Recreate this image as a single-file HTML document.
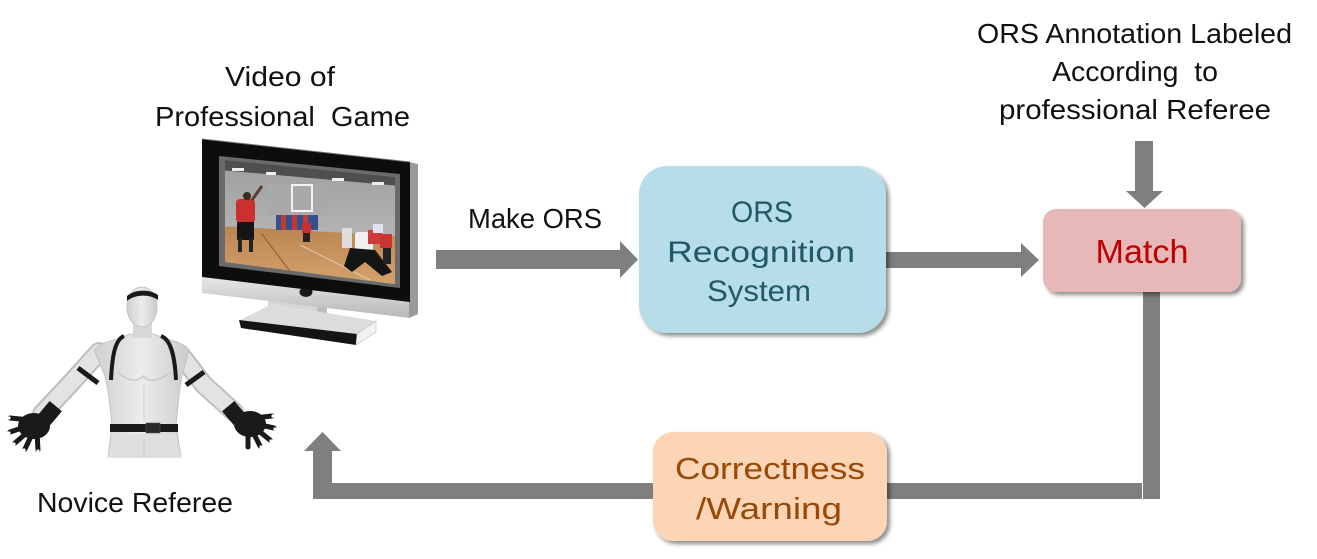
<!DOCTYPE html>
<html>
<head>
<meta charset="utf-8">
<style>
html,body{margin:0;padding:0;background:#fff;}
svg{display:block;}
text{font-family:"Liberation Sans",sans-serif;}
</style>
</head>
<body>
<svg width="1317" height="559" viewBox="0 0 1317 559" xmlns="http://www.w3.org/2000/svg">
<defs>
  <filter id="sh" x="-10%" y="-10%" width="130%" height="130%">
    <feGaussianBlur in="SourceAlpha" stdDeviation="2.2"/>
    <feOffset dx="3" dy="3" result="o"/>
    <feComponentTransfer><feFuncA type="linear" slope="0.45"/></feComponentTransfer>
    <feMerge><feMergeNode/><feMergeNode in="SourceGraphic"/></feMerge>
  </filter>
  <linearGradient id="silver" x1="0" y1="0" x2="0" y2="1">
    <stop offset="0" stop-color="#e8e8e8"/>
    <stop offset="1" stop-color="#b8b8b8"/>
  </linearGradient>
  <linearGradient id="floor" x1="0" y1="0" x2="0" y2="1">
    <stop offset="0" stop-color="#b98552"/>
    <stop offset="1" stop-color="#d7a56e"/>
  </linearGradient>
  <linearGradient id="wall" x1="0" y1="0" x2="0" y2="1">
    <stop offset="0" stop-color="#9c9c9c"/>
    <stop offset="1" stop-color="#c2c2c2"/>
  </linearGradient>
  <linearGradient id="skin" x1="0" y1="0" x2="1" y2="0">
    <stop offset="0" stop-color="#cfcfcf"/>
    <stop offset="0.5" stop-color="#ececec"/>
    <stop offset="1" stop-color="#cbcbcb"/>
  </linearGradient>
  <clipPath id="scr"><polygon points="225,160 395,177 395,284 225,262"/></clipPath>
</defs>

<rect width="1317" height="559" fill="#fff"/>

<!-- ===== TV ===== -->
<!-- stand back plate -->
<polygon points="268,298 320,304 320,322 268,316" fill="#d6d6d6"/>
<rect x="317" y="300" width="10" height="22" fill="#bdbdbd"/>
<!-- base -->
<polygon points="240,320 272,304 376,321 357,334" fill="#dcdcdc"/>
<polygon points="239,320 357,334 356,345 241,328" fill="#141414"/>
<polygon points="357,334 376,321 376,332 356,345" fill="#f2f2f2" stroke="#bbb" stroke-width="0.6"/>
<!-- silver bottom frame -->
<polygon points="202,276 410,301 410,318 202,293" fill="url(#silver)"/>
<ellipse cx="306" cy="292" rx="6.5" ry="5" fill="#1a1a1a"/>
<!-- right side strip -->
<polygon points="409,162 418,164 418,314 409,318" fill="#9a9a9a"/>
<!-- bezel -->
<polygon points="202,139 410,162 410,302 202,277" fill="#0d0d0d"/>
<line x1="202" y1="139" x2="410" y2="162" stroke="#777" stroke-width="1"/>
<!-- inner frame -->
<polygon points="219,156 400,174 400,288 219,266" fill="#6a6a6a"/>
<!-- screen picture -->
<g clip-path="url(#scr)">
  <rect x="220" y="150" width="180" height="140" fill="url(#wall)"/>
  <polygon points="220,150 400,168 400,186 220,170" fill="#4e4e4e"/>
  <rect x="232" y="168" width="12" height="3" fill="#eee"/>
  <rect x="266" y="172" width="10" height="3" fill="#eee"/>
  <rect x="332" y="178" width="12" height="3" fill="#eee"/>
  <rect x="372" y="182" width="12" height="3" fill="#eee"/>
  <rect x="268" y="185" width="60" height="30" fill="#a9a9a9"/>
  <polygon points="220,226 400,236 400,290 220,290" fill="url(#floor)"/>
  <line x1="262" y1="234" x2="300" y2="285" stroke="#a04a3a" stroke-width="1"/>
  <line x1="300" y1="245" x2="370" y2="280" stroke="#e4c9a4" stroke-width="1"/>
  <!-- hoop -->
  <rect x="292" y="185" width="20" height="26" fill="none" stroke="#f4f4f4" stroke-width="2"/>
  <!-- banner -->
  <rect x="276" y="215" width="42" height="15" fill="#35508c"/>
  <rect x="281" y="215" width="5" height="15" fill="#c23a34"/>
  <rect x="292" y="215" width="5" height="15" fill="#c23a34"/>
  <rect x="303" y="215" width="5" height="15" fill="#c23a34"/>
  <!-- left player -->
  <rect x="236" y="199" width="19" height="24" rx="4" fill="#c9312f"/>
  <circle cx="247" cy="196" r="4" fill="#3a2a22"/>
  <rect x="237" y="222" width="17" height="18" fill="#151515"/>
  <rect x="238" y="238" width="4" height="14" fill="#222"/>
  <rect x="249" y="238" width="4" height="14" fill="#222"/>
  <line x1="252" y1="200" x2="262" y2="186" stroke="#5a3a2a" stroke-width="3"/>
  <!-- mid player -->
  <rect x="302" y="223" width="9" height="10" fill="#c9312f"/>
  <rect x="303" y="233" width="7" height="9" fill="#222"/>
  <!-- right group -->
  <rect x="342" y="228" width="10" height="20" fill="#ddd"/>
  <rect x="355" y="232" width="18" height="20" rx="3" fill="#f0f0f0"/>
  <polygon points="350,248 375,250 392,272 382,276 365,262 352,272 344,266" fill="#151515"/>
  <rect x="368" y="230" width="14" height="14" fill="#cf3a3a"/>
  <rect x="373" y="224" width="10" height="9" fill="#dfe3ee"/>
  <rect x="380" y="234" width="12" height="14" fill="#c93434"/>
  <rect x="383" y="248" width="8" height="16" fill="#222"/>
</g>

<!-- ===== Human figure ===== -->
<!-- arms outline -->
<polyline points="99,352 70,384 42,414" fill="none" stroke="#bdbdbd" stroke-width="20" stroke-linecap="round" stroke-linejoin="round"/>
<polyline points="180,354 204,385 234,412" fill="none" stroke="#bdbdbd" stroke-width="20" stroke-linecap="round" stroke-linejoin="round"/>
<polyline points="99,352 70,384 42,414" fill="none" stroke="#e3e3e3" stroke-width="16" stroke-linecap="round" stroke-linejoin="round"/>
<polyline points="180,354 204,385 234,412" fill="none" stroke="#e3e3e3" stroke-width="16" stroke-linecap="round" stroke-linejoin="round"/>
<!-- torso -->
<path d="M130 334 L154 334 C166 340 180 340 189 350 L182 376 C178 396 178 410 176 425 L181 457 L108 457 L112 425 C110 410 110 396 105 376 L94 350 C102 341 118 340 130 334 Z" fill="url(#skin)" stroke="#c4c4c4" stroke-width="1"/>
<!-- pelvis shading -->
<path d="M112 434 L176 434 L181 457 L108 457 Z" fill="#dedede"/>
<line x1="144" y1="440" x2="144" y2="457" stroke="#c8c8c8" stroke-width="1"/>
<!-- chest shading -->
<path d="M118 372 C128 382 138 382 143 376 C148 382 160 382 170 372" fill="none" stroke="#c9c9c9" stroke-width="1.5"/>
<line x1="144" y1="385" x2="144" y2="420" stroke="#d0d0d0" stroke-width="1"/>
<!-- neck -->
<rect x="133" y="320" width="19" height="18" fill="#d8d8d8"/>
<!-- head -->
<ellipse cx="142" cy="307" rx="15" ry="20" fill="url(#skin)" stroke="#c4c4c4" stroke-width="1"/>
<path d="M127 296 C135 289 150 289 158 295 L158 300 C150 294 135 294 127 301 Z" fill="#1a1a1a"/>
<!-- straps -->
<path d="M124 336 C114 340 112 360 111 380" fill="none" stroke="#1a1a1a" stroke-width="4"/>
<path d="M161 336 C172 340 175 360 176 380" fill="none" stroke="#1a1a1a" stroke-width="4"/>
<line x1="78" y1="368" x2="98" y2="383" stroke="#1a1a1a" stroke-width="5"/>
<line x1="186" y1="385" x2="204" y2="372" stroke="#1a1a1a" stroke-width="5"/>
<!-- belt -->
<rect x="110" y="424" width="68" height="8" fill="#1a1a1a"/>
<rect x="146" y="423" width="14" height="10" fill="#2a2a2a" stroke="#555" stroke-width="0.6"/>
<!-- left glove -->
<rect x="42" y="404" width="16" height="18" fill="#1a1a1a" transform="rotate(40 50 413)"/>
<ellipse cx="34" cy="426" rx="16" ry="13" fill="#1a1a1a"/>
<g stroke="#1a1a1a" stroke-width="5" stroke-linecap="round">
  <line x1="30" y1="420" x2="10" y2="418"/>
  <line x1="28" y1="426" x2="10" y2="432"/>
  <line x1="30" y1="430" x2="15" y2="443"/>
  <line x1="33" y1="432" x2="25" y2="449"/>
  <line x1="37" y1="432" x2="38" y2="450"/>
</g>
<g fill="#fff">
  <circle cx="9" cy="418" r="1.6"/><circle cx="9" cy="433" r="1.6"/>
  <circle cx="14" cy="444" r="1.6"/><circle cx="24" cy="450" r="1.6"/><circle cx="38" cy="451" r="1.6"/>
</g>
<!-- right glove -->
<rect x="226" y="404" width="16" height="18" fill="#1a1a1a" transform="rotate(-40 234 413)"/>
<ellipse cx="250" cy="424" rx="16" ry="13" fill="#1a1a1a"/>
<g stroke="#1a1a1a" stroke-width="5" stroke-linecap="round">
  <line x1="254" y1="418" x2="272" y2="416"/>
  <line x1="256" y1="424" x2="274" y2="428"/>
  <line x1="255" y1="428" x2="270" y2="440"/>
  <line x1="252" y1="430" x2="260" y2="446"/>
  <line x1="248" y1="431" x2="248" y2="447"/>
</g>
<g fill="#fff">
  <circle cx="273" cy="416" r="1.6"/><circle cx="275" cy="429" r="1.6"/>
  <circle cx="271" cy="441" r="1.6"/><circle cx="261" cy="447" r="1.6"/>
</g>

<!-- ===== Connectors ===== -->
<g fill="#7f7f7f">
  <!-- Make ORS arrow -->
  <rect x="436" y="250" width="185" height="19"/>
  <polygon points="620,241 638,259.5 620,278"/>
  <!-- ORS -> Match -->
  <rect x="886" y="252" width="136" height="16"/>
  <polygon points="1021,243 1039,260 1021,277"/>
  <!-- down into Match -->
  <rect x="1135" y="141" width="18" height="51"/>
  <polygon points="1126,191 1163,191 1144.5,208"/>
  <!-- Match down -->
  <rect x="1143" y="292" width="17" height="207"/>
  <!-- return horizontal -->
  <rect x="313" y="483" width="829" height="16"/>
  <!-- up arrow -->
  <rect x="313" y="450" width="19" height="49"/>
  <polygon points="304,451 341,451 322.5,432"/>
</g>

<!-- ===== Boxes ===== -->
<rect x="639" y="166" width="247" height="167" rx="28" fill="#b7dde8" filter="url(#sh)"/>
<rect x="1043" y="209" width="198" height="83" rx="13" fill="#e6b9b8" filter="url(#sh)"/>
<rect x="653" y="432" width="234" height="109" rx="20" fill="#fbd5b5" filter="url(#sh)"/>

<!-- box text -->
<g text-anchor="middle" fill="#215968">
  <text x="762" y="222" font-size="30" textLength="62" lengthAdjust="spacingAndGlyphs">ORS</text>
  <text x="761" y="262" font-size="30" textLength="188" lengthAdjust="spacingAndGlyphs">Recognition</text>
  <text x="759" y="301" font-size="30" textLength="104" lengthAdjust="spacingAndGlyphs">System</text>
</g>
<text x="1142" y="263" font-size="33" text-anchor="middle" fill="#c00000" textLength="93" lengthAdjust="spacingAndGlyphs">Match</text>
<g text-anchor="middle" fill="#984807">
  <text x="770" y="479" font-size="31" textLength="190" lengthAdjust="spacingAndGlyphs">Correctness</text>
  <text x="769" y="519" font-size="31" textLength="146" lengthAdjust="spacingAndGlyphs">/Warning</text>
</g>

<!-- labels -->
<g fill="#111" font-size="28">
  <text x="225" y="86" textLength="110" lengthAdjust="spacingAndGlyphs">Video of</text>
  <text x="155" y="126" textLength="255" lengthAdjust="spacingAndGlyphs" xml:space="preserve">Professional  Game</text>
  <text x="468" y="228" textLength="134" lengthAdjust="spacingAndGlyphs">Make ORS</text>
  <text x="37" y="512" textLength="196" lengthAdjust="spacingAndGlyphs">Novice Referee</text>
  <text x="977" y="43" textLength="315" lengthAdjust="spacingAndGlyphs">ORS Annotation Labeled</text>
  <text x="1052" y="81" textLength="166" lengthAdjust="spacingAndGlyphs" xml:space="preserve">According  to</text>
  <text x="999" y="119" textLength="272" lengthAdjust="spacingAndGlyphs">professional Referee</text>
</g>
</svg>
</body>
</html>
